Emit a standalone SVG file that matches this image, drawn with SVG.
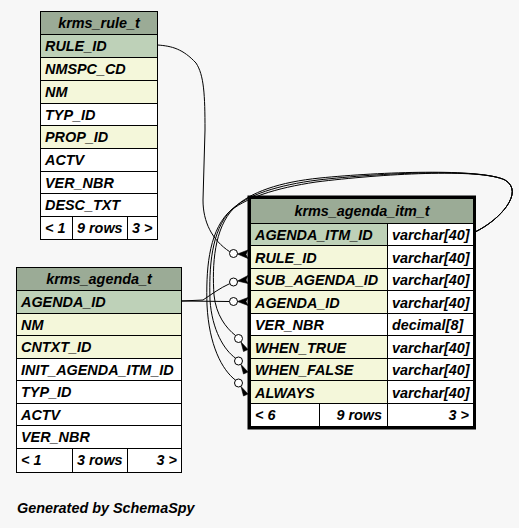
<svg xmlns="http://www.w3.org/2000/svg" width="519" height="528" viewBox="0 0 519 528">
<style>
text{font-family:"Liberation Sans",Arial,Helvetica,sans-serif;font-weight:bold;font-style:italic;font-size:14.4px;fill:#000}
.c{stroke:#000;stroke-width:1}
.h{fill:#9bab96}
.pk{fill:#bed1b8}
.ix{fill:#f4f7da}
.w{fill:#ffffff}
.mid{text-anchor:middle}
.end{text-anchor:end}
.e{fill:none;stroke:#000;stroke-width:1}
.dot{fill:#fff;stroke:#000;stroke-width:1}
.crow{fill:#000;stroke:#000;stroke-width:0.6}
</style>
<rect x="0" y="0" width="519" height="528" fill="#f7f7f7"/>

<g id="krms_rule_t">
<rect class="c h" x="40.5" y="11.5" width="117" height="23"/>
<rect class="c pk" x="40.5" y="34.5" width="117" height="23"/>
<rect class="c ix" x="40.5" y="57.5" width="117" height="23"/>
<rect class="c ix" x="40.5" y="80.5" width="117" height="23"/>
<rect class="c w" x="40.5" y="103.5" width="117" height="22"/>
<rect class="c ix" x="40.5" y="125.5" width="117" height="23"/>
<rect class="c w" x="40.5" y="148.5" width="117" height="23"/>
<rect class="c w" x="40.5" y="171.5" width="117" height="22"/>
<rect class="c w" x="40.5" y="193.5" width="117" height="23"/>
<rect class="c w" x="40.5" y="216.5" width="117" height="23"/>
<line class="c" x1="72.5" y1="216.5" x2="72.5" y2="239.5"/>
<line class="c" x1="127.5" y1="216.5" x2="127.5" y2="239.5"/>
<text class="mid" x="99" y="28">krms_rule_t</text>
<text x="45" y="51">RULE_ID</text>
<text x="45" y="74">NMSPC_CD</text>
<text x="45" y="97">NM</text>
<text x="45" y="119.5">TYP_ID</text>
<text x="45" y="142">PROP_ID</text>
<text x="45" y="165">ACTV</text>
<text x="45" y="187.5">VER_NBR</text>
<text x="45" y="210">DESC_TXT</text>
<text x="45" y="233">&lt; 1</text>
<text x="77" y="233">9 rows</text>
<text x="132" y="233">3 &gt;</text>
</g>

<g id="krms_agenda_t">
<rect class="c h" x="16.5" y="267.5" width="165" height="23"/>
<rect class="c pk" x="16.5" y="290.5" width="165" height="23"/>
<rect class="c ix" x="16.5" y="313.5" width="165" height="22"/>
<rect class="c ix" x="16.5" y="335.5" width="165" height="23"/>
<rect class="c w" x="16.5" y="358.5" width="165" height="22"/>
<rect class="c w" x="16.5" y="380.5" width="165" height="23"/>
<rect class="c w" x="16.5" y="403.5" width="165" height="22"/>
<rect class="c w" x="16.5" y="425.5" width="165" height="23"/>
<rect class="c w" x="16.5" y="448.5" width="165" height="24"/>
<line class="c" x1="72.5" y1="448.5" x2="72.5" y2="472.5"/>
<line class="c" x1="127.5" y1="448.5" x2="127.5" y2="472.5"/>
<text class="mid" x="99" y="284">krms_agenda_t</text>
<text x="21" y="307">AGENDA_ID</text>
<text x="21" y="329.5">NM</text>
<text x="21" y="352">CNTXT_ID</text>
<text x="21" y="374.5">INIT_AGENDA_ITM_ID</text>
<text x="21" y="397">TYP_ID</text>
<text x="21" y="419.5">ACTV</text>
<text x="21" y="442">VER_NBR</text>
<text x="21" y="465">&lt; 1</text>
<text x="77" y="465">3 rows</text>
<text class="end" x="177" y="465">3 &gt;</text>
</g>

<g id="krms_agenda_itm_t">
<rect class="c h" x="250.5" y="198.5" width="223" height="25"/>
<rect class="c pk" x="250.5" y="223.5" width="137" height="22"/>
<rect class="c w" x="387.5" y="223.5" width="86" height="22"/>
<rect class="c ix" x="250.5" y="245.5" width="137" height="23"/>
<rect class="c w" x="387.5" y="245.5" width="86" height="23"/>
<rect class="c ix" x="250.5" y="268.5" width="137" height="22"/>
<rect class="c w" x="387.5" y="268.5" width="86" height="22"/>
<rect class="c ix" x="250.5" y="290.5" width="137" height="23"/>
<rect class="c w" x="387.5" y="290.5" width="86" height="23"/>
<rect class="c w" x="250.5" y="313.5" width="137" height="22"/>
<rect class="c w" x="387.5" y="313.5" width="86" height="22"/>
<rect class="c ix" x="250.5" y="335.5" width="137" height="23"/>
<rect class="c w" x="387.5" y="335.5" width="86" height="23"/>
<rect class="c ix" x="250.5" y="358.5" width="137" height="22"/>
<rect class="c w" x="387.5" y="358.5" width="86" height="22"/>
<rect class="c ix" x="250.5" y="380.5" width="137" height="23"/>
<rect class="c w" x="387.5" y="380.5" width="86" height="23"/>
<rect class="c w" x="250.5" y="403.5" width="223" height="23"/>
<line class="c" x1="319.5" y1="403.5" x2="319.5" y2="426.5"/>
<line class="c" x1="387.5" y1="403.5" x2="387.5" y2="426.5"/>
<rect x="248.75" y="196.75" width="226" height="231.5" fill="none" stroke="#000" stroke-width="2.5"/>
<text class="mid" x="362" y="215.5">krms_agenda_itm_t</text>
<text x="255" y="240">AGENDA_ITM_ID</text>
<text x="392" y="240">varchar[40]</text>
<text x="255" y="262.5">RULE_ID</text>
<text x="392" y="262.5">varchar[40]</text>
<text x="255" y="285">SUB_AGENDA_ID</text>
<text x="392" y="285">varchar[40]</text>
<text x="255" y="307.5">AGENDA_ID</text>
<text x="392" y="307.5">varchar[40]</text>
<text x="255" y="330">VER_NBR</text>
<text x="392" y="330">decimal[8]</text>
<text x="255" y="352.5">WHEN_TRUE</text>
<text x="392" y="352.5">varchar[40]</text>
<text x="255" y="375">WHEN_FALSE</text>
<text x="392" y="375">varchar[40]</text>
<text x="255" y="397.5">ALWAYS</text>
<text x="392" y="397.5">varchar[40]</text>
<text x="255" y="420">&lt; 6</text>
<text class="end" x="382" y="420">9 rows</text>
<text class="end" x="469" y="420">3 &gt;</text>
</g>

<g id="connectors">
<path class="e" d="M157.5,45 C172,46 183,49 196,63 C204,75 205,95 205,130 L203,200 C203,222 212,240 229.8,251.8"/>
<circle class="dot" cx="233.5" cy="253.5" r="4"/>
<polygon class="crow" points="237.5,254 248,250 246,254.5 248,258.5"/>

<path class="e" d="M181.5,301 L229.5,301.5"/>
<circle class="dot" cx="233.5" cy="301.5" r="4"/>
<polygon class="crow" points="237.5,301.5 248,297.5 246,301.5 248,305.5"/>

<path class="e" d="M181.5,301 L203,300 C212,294 220,288 229.8,283.6"/>
<circle class="dot" cx="233.5" cy="282" r="4"/>
<polygon class="crow" points="237.5,281 248,275.5 246,280 248,283.5"/>

<path class="e" d="M475,232 C500,220 525,192 505,180 C480,168 380,172 320,178 C280,182 250,192 234,208 C214,228 212,265 214,295 C216,315 226,328 235.6,335.6"/>
<circle class="dot" cx="238.5" cy="338.5" r="4"/>
<polygon class="crow" points="241,342 243.5,351.5 248,349.5"/>

<path class="e" d="M475,232 C500,220 525,192 505,180 C480,168 380,173 318,180 C278,185 247,195 231,210 C211,231 209,268 210,300 C212,330 224,350 235.6,358.2"/>
<circle class="dot" cx="238.5" cy="361" r="4"/>
<polygon class="crow" points="241,364.5 243.5,374 248,372"/>

<path class="e" d="M475,232 C500,220 525,192 505,180 C480,168 380,174 316,182 C276,188 244,198 228,213 C208,234 206,272 207,305 C209,345 222,370 235.6,380.2"/>
<circle class="dot" cx="238.5" cy="383" r="4"/>
<polygon class="crow" points="241,386.5 243.5,396 248,394"/>
</g>

<text x="17" y="513">Generated by SchemaSpy</text>
</svg>
